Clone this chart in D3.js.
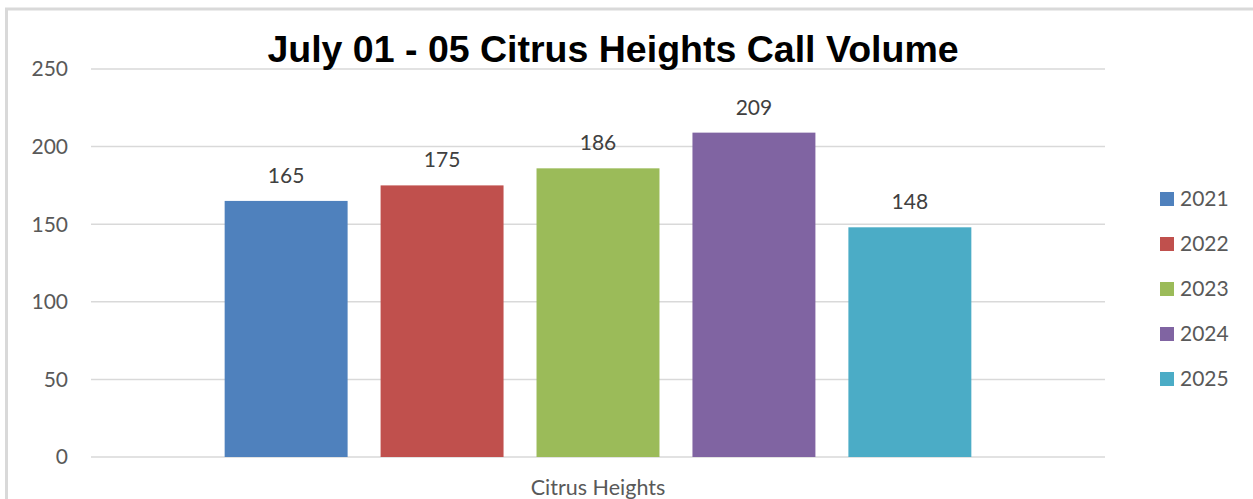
<!DOCTYPE html>
<html>
<head>
<meta charset="utf-8">
<script src="https://cdn.jsdelivr.net/npm/d3@7"></script>
<style>
  body { margin: 0; background: #fff; }
  text { font-family: Lato, "Open Sans", sans-serif; }
</style>
</head>
<body>
<script>
// chart data
var categories = ["Citrus Heights"];
var years = ["2021", "2022", "2023", "2024", "2025"];
var calls = [165, 175, 186, 209, 148];
var colors = ["#4f81bd", "#c0504d", "#9bbb59", "#8064a2", "#4bacc6"];
var yTicks = [0, 50, 100, 150, 200, 250];

var width = 1253, height = 499;
var margin = {left: 91, right: 148, top: 69, bottom: 42};

var svg = d3.select("body").append("svg").attr("width", width).attr("height", height);

// outer frame
svg.append("rect")
    .attr("x", 6.5).attr("y", 9)
    .attr("width", width + 10).attr("height", height + 10)
    .attr("fill", "none").attr("stroke", "#d9d9d9").attr("stroke-width", 3);

var x0 = d3.scaleBand().domain(categories)
    .range([margin.left, width - margin.right])
    .paddingInner(0).paddingOuter(0.179);
var x1 = d3.scaleBand().domain(years)
    .range([0, x0.bandwidth()])
    .paddingInner(0.2115).paddingOuter(0);
var y = d3.scaleLinear().domain([0, 250]).range([height - margin.bottom, margin.top]);

// gridlines
svg.append("g")
  .selectAll("line")
  .data(yTicks)
  .enter().append("line")
    .attr("x1", margin.left).attr("x2", width - margin.right)
    .attr("y1", d => y(d)).attr("y2", d => y(d))
    .attr("stroke", "#d9d9d9").attr("stroke-width", 1.5);

// y tick labels
svg.append("g")
  .selectAll("text")
  .data(yTicks)
  .enter().append("text")
    .attr("x", 68).attr("y", d => y(d))
    .attr("dy", "0.35em")
    .attr("text-anchor", "end")
    .attr("font-size", 21)
    .attr("fill", "#595959")
    .text(d => d);

// bars
var g = svg.append("g").attr("transform", "translate(" + x0(categories[0]) + ",0)");
g.selectAll("rect")
  .data(years)
  .enter().append("rect")
    .attr("x", d => x1(d))
    .attr("y", (d, i) => y(calls[i]))
    .attr("width", x1.bandwidth())
    .attr("height", (d, i) => y(0) - y(calls[i]))
    .attr("fill", (d, i) => colors[i]);

// data labels
g.selectAll(".lbl")
  .data(years)
  .enter().append("text").attr("class", "lbl")
    .attr("x", d => x1(d) + x1.bandwidth() / 2)
    .attr("y", (d, i) => y(calls[i]) - 18)
    .attr("text-anchor", "middle")
    .attr("font-size", 21)
    .attr("fill", "#404040")
    .text((d, i) => calls[i]);

// category label
svg.append("text")
    .attr("x", x0(categories[0]) + x0.bandwidth() / 2)
    .attr("y", 495)
    .attr("text-anchor", "middle")
    .attr("font-size", 21.5)
    .attr("fill", "#595959")
    .text(categories[0]);

// title
svg.append("text")
    .attr("x", 613).attr("y", 62)
    .attr("text-anchor", "middle")
    .style("font-family", "'Liberation Sans', Arial, sans-serif")
    .attr("font-weight", "bold")
    .attr("font-size", 37.5)
    .attr("fill", "#000")
    .text("July 01 - 05 Citrus Heights Call Volume");

// legend
var legend = svg.append("g")
  .selectAll("g")
  .data(years)
  .enter().append("g")
    .attr("transform", (d, i) => "translate(1160," + (199 + i * 45) + ")");
legend.append("rect")
    .attr("x", 0).attr("y", -7)
    .attr("width", 14).attr("height", 14)
    .attr("fill", (d, i) => colors[i]);
legend.append("text")
    .attr("x", 20).attr("y", 0)
    .attr("dy", "0.35em")
    .attr("font-size", 21)
    .attr("fill", "#595959")
    .text(d => d);
</script>
</body>
</html>
